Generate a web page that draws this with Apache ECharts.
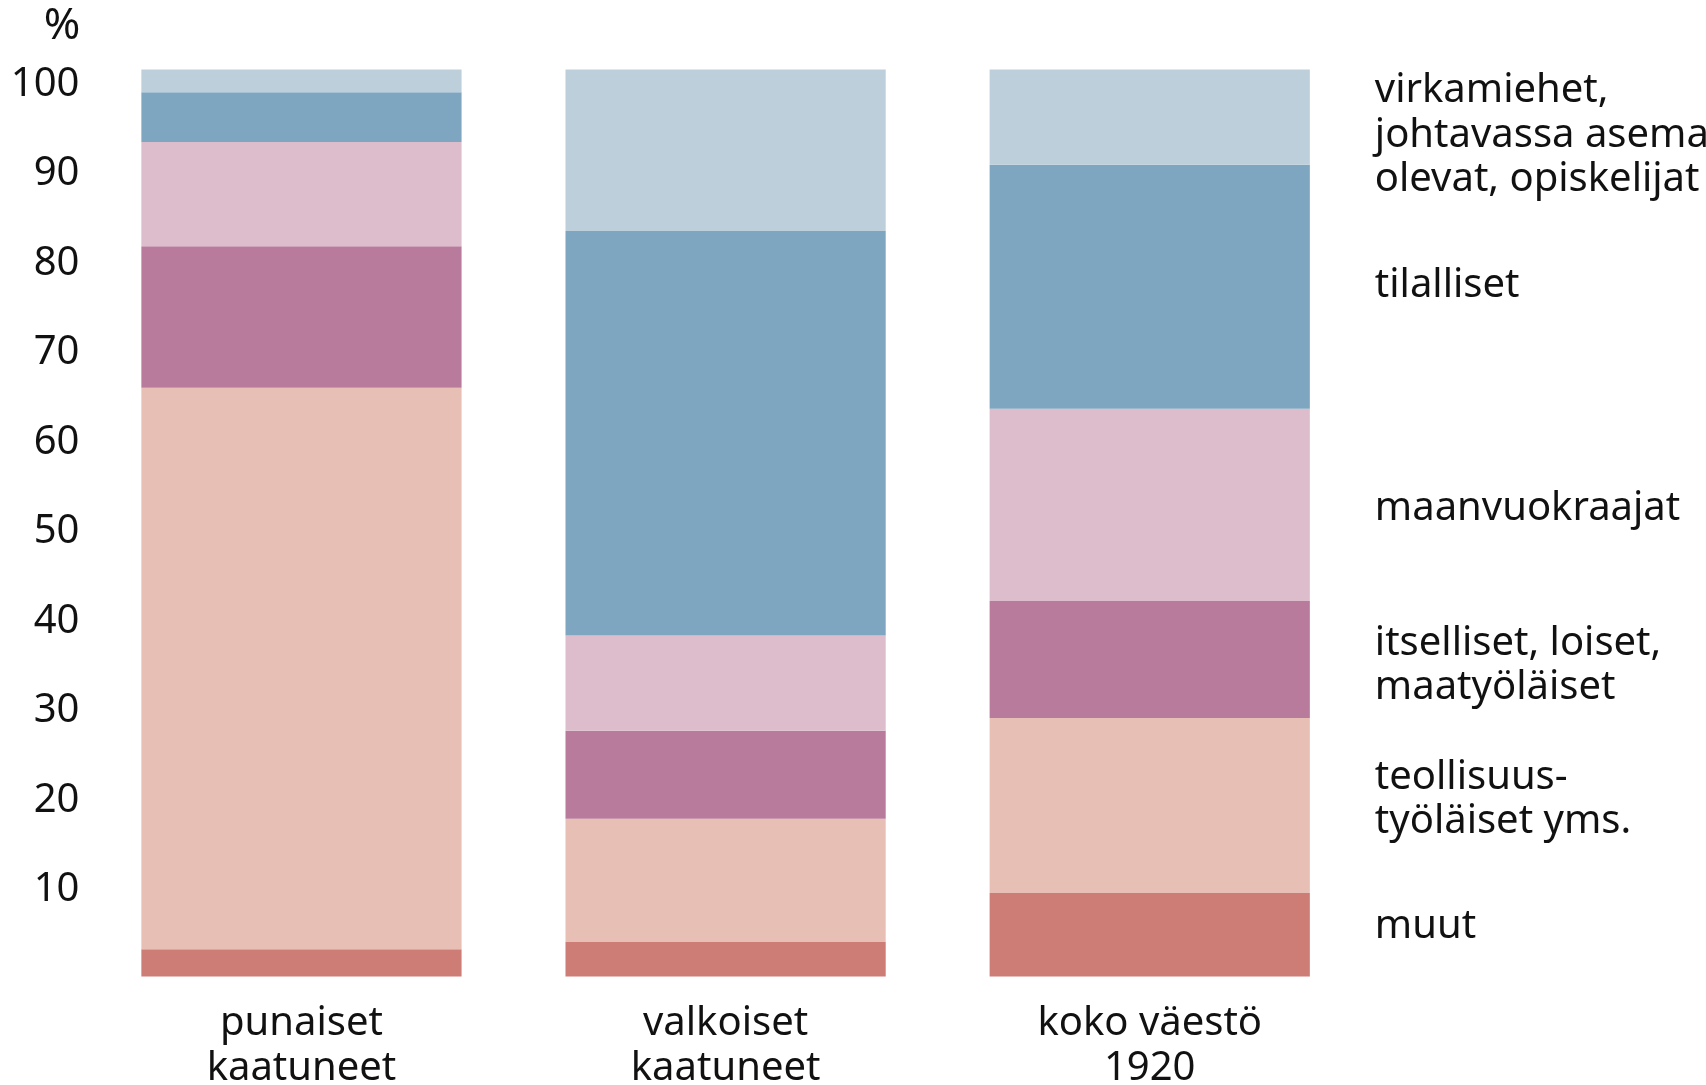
<!DOCTYPE html>
<html>
<head>
<meta charset="utf-8">
<script src="https://cdn.jsdelivr.net/npm/echarts@6/dist/echarts.min.js"></script>
<style>
  html, body { margin: 0; padding: 0; background: #fff; }
  #chart { width: 1706px; height: 1085px; }
</style>
</head>
<body>
<div id="chart"></div>
<script>
// ---- data ----
const categories = ['punaiset\nkaatuneet', 'valkoiset\nkaatuneet', 'koko väestö\n1920'];
const groupNames = [
  'muut',
  'teollisuus-\ntyöläiset yms.',
  'itselliset, loiset,\nmaatyöläiset',
  'maanvuokraajat',
  'tilalliset',
  'virkamiehet,\njohtavassa asema\nolevat, opiskelijat'
];
const muut          = [3.0, 3.8, 9.2];
const teollisuus    = [61.9, 13.6, 19.3];
const itselliset    = [15.6, 9.7, 12.9];
const maanvuokraajat= [11.5, 10.5, 21.2];
const tilalliset    = [5.5, 44.6, 26.9];
const virkamiehet   = [2.5, 17.8, 10.5];
const yTickLabels   = [10, 20, 30, 40, 50, 60, 70, 80, 90, 100];

// ---- styles ----
const seriesValues = [muut, teollisuus, itselliset, maanvuokraajat, tilalliset, virkamiehet];
const colors = ['#CE7D76', '#E8BFB5', '#B87B9B', '#DDBDCC', '#7EA6C1', '#BDCFDB'];
const labelOffsetY = [-8, -6, 6, 4, -1, 18];
const FONT = 'Noto Sans';
const TXT = '#111111';

const series = seriesValues.map((vals, s) => ({
  name: groupNames[s],
  type: 'bar',
  stack: 'total',
  yAxisIndex: 0,
  barWidth: '75.5%',
  itemStyle: { color: colors[s] },
  emphasis: { disabled: true },
  data: vals.map((v, i) => i === categories.length - 1 ? {
    value: v,
    label: {
      show: true,
      position: 'right',
      distance: 65,
      offset: [0, labelOffsetY[s]],
      formatter: groupNames[s],
      fontFamily: FONT,
      fontSize: 40,
      lineHeight: 44.5,
      color: TXT,
      align: 'left'
    }
  } : v)
}));

const chart = echarts.init(document.getElementById('chart'), null, { renderer: 'canvas' });
chart.setOption({
  backgroundColor: '#ffffff',
  animation: false,
  textStyle: { fontFamily: FONT },
  grid: { left: 89.4, right: 344.2, top: 69.5, bottom: 108.5, containLabel: false, outerBoundsMode: 'none' },
  xAxis: {
    type: 'category',
    data: categories,
    axisLine: { show: false },
    axisTick: { show: false },
    axisLabel: {
      fontFamily: FONT, fontSize: 40, lineHeight: 44.5, color: TXT, margin: 25, interval: 0
    }
  },
  yAxis: [
    { type: 'value', min: 0, max: 100, show: false, position: 'left' },
    {
      type: 'value', min: 0, max: 101.35, interval: 10, position: 'left',
      name: '%',
      nameLocation: 'end',
      nameGap: 43,
      nameTextStyle: { fontFamily: FONT, fontSize: 44, color: TXT, align: 'right', verticalAlign: 'middle', padding: [0, 9, 0, 0] },
      axisLine: { show: false },
      axisTick: { show: false },
      splitLine: { show: false },
      axisLabel: {
        fontFamily: FONT, fontSize: 40, color: TXT, margin: 10,
        verticalAlign: 'top', lineHeight: 6,
        formatter: v => yTickLabels.indexOf(v) >= 0 ? String(v) : ''
      }
    }
  ],
  series: series
});
</script>
</body>
</html>
